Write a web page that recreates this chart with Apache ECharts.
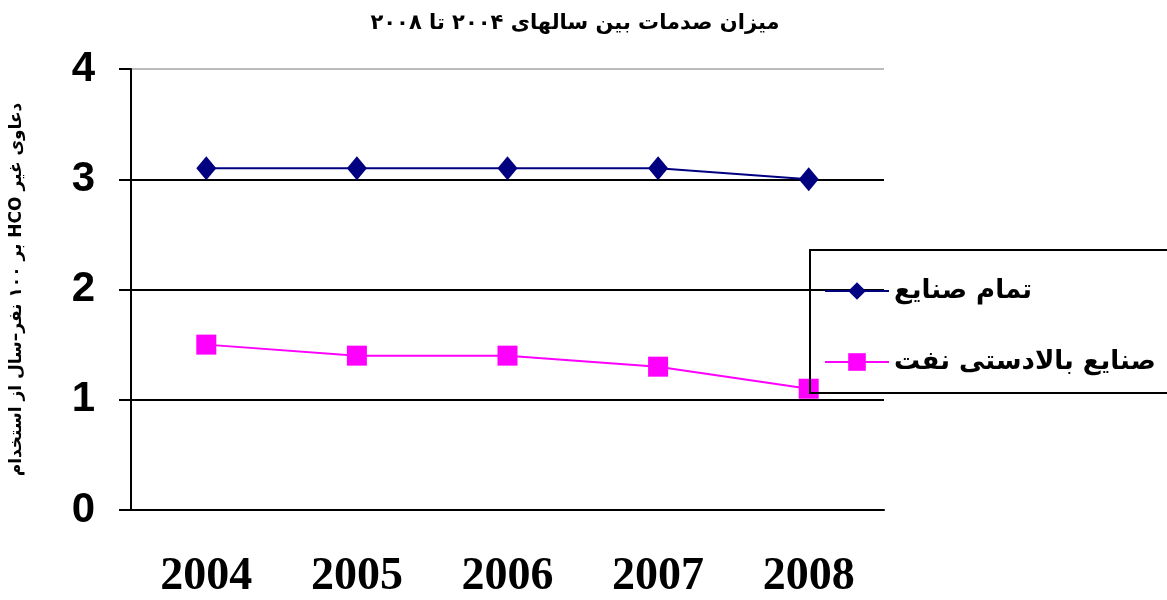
<!DOCTYPE html>
<html>
<head>
<meta charset="utf-8">
<script src="https://cdn.jsdelivr.net/npm/echarts@6/dist/echarts.min.js"></script>
<style>
html, body { margin: 0; padding: 0; background: #fff; }
#chart { width: 1167px; height: 600px; }
</style>
</head>
<body>
<div id="chart"></div>
<script>
var years = ['2004', '2005', '2006', '2007', '2008'];
var allIndustries = [3.1, 3.1, 3.1, 3.1, 3.0];
var upstreamOil = [1.5, 1.4, 1.4, 1.3, 1.1];
var yTicks = [0, 1, 2, 3, 4];

// wrap persian strings so canvas lays them out right-to-left
function rtl(s) { return '\u202B' + s + '\u202C'; }

var chart = echarts.init(document.getElementById('chart'));

chart.setOption({
    title: {
        text: rtl('میزان صدمات بین سالهای ۲۰۰۴ تا ۲۰۰۸'),
        left: 570,
        textAlign: 'center',
        top: 8,
        textStyle: { fontFamily: 'DejaVu Sans', fontWeight: 'bold', fontSize: 21, color: '#000' }
    },
    grid: { left: 129, right: 283, top: 69, bottom: 86 },
    legend: {
        orient: 'vertical',
        left: 810,
        top: 250,
        padding: [28, 40, 18, 14],
        itemGap: 45,
        itemWidth: 64,
        itemHeight: 22,
        borderColor: '#000',
        borderWidth: 2,
        data: ['تمام صنایع', 'صنایع بالادستی نفت'],
        formatter: function (name) { return rtl(name); },
        textStyle: { fontFamily: 'DejaVu Sans', fontWeight: 'bold', fontSize: 26, color: '#000' }
    },
    xAxis: {
        type: 'category',
        data: years,
        boundaryGap: true,
        axisLine: { lineStyle: { color: '#000', width: 2 } },
        axisTick: { length: 11, lineStyle: { color: '#000', width: 2 } },
        axisLabel: {
            margin: 44,
            fontFamily: 'Liberation Serif',
            fontWeight: 'bold',
            fontSize: 46,
            color: '#000'
        }
    },
    yAxis: {
        type: 'value',
        min: yTicks[0],
        max: yTicks[yTicks.length - 1],
        interval: 1,
        name: rtl('دعاوی غیر HCO بر ۱۰۰ نفر–سال از استخدام'),
        nameLocation: 'middle',
        nameGap: 106,
        nameTextStyle: { fontFamily: 'DejaVu Sans', fontWeight: 'bold', fontSize: 17, color: '#000' },
        axisLine: { show: true, lineStyle: { color: '#000', width: 2 } },
        axisTick: { show: true, length: 12, lineStyle: { color: '#000', width: 2 } },
        axisLabel: {
            margin: 36,
            fontFamily: 'Liberation Sans',
            fontWeight: 'bold',
            fontSize: 42,
            color: '#000'
        },
        splitLine: { lineStyle: { color: ['#000', '#000', '#000', '#000', '#bbb'], width: 2 } }
    },
    series: [{
        name: 'تمام صنایع',
        type: 'line',
        data: allIndustries,
        symbol: 'diamond',
        symbolSize: [20, 24],
        lineStyle: { color: '#000080', width: 2 },
        itemStyle: { color: '#000080' }
    }, {
        name: 'صنایع بالادستی نفت',
        type: 'line',
        data: upstreamOil,
        symbol: 'rect',
        symbolSize: 20,
        lineStyle: { color: '#ff00ff', width: 2 },
        itemStyle: { color: '#ff00ff' }
    }]
});
</script>
</body>
</html>
